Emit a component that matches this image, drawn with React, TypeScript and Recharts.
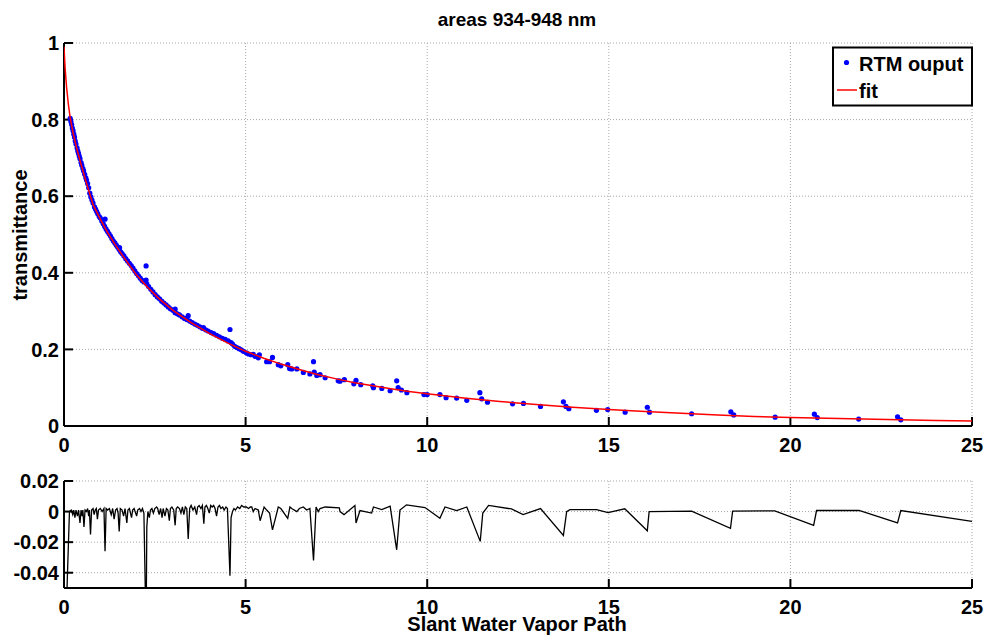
import React from 'react';
import { ComposedChart, Scatter, Line, XAxis, YAxis, CartesianGrid } from 'recharts';

// ---------- data ----------
const xTicks = [0, 5, 10, 15, 20, 25];
const topYTicks = [0, 0.2, 0.4, 0.6, 0.8, 1];
const botYTicks = [-0.04, -0.02, 0, 0.02];

const rtmX = [
  0.17, 0.19, 0.21, 0.23, 0.25, 0.27, 0.29, 0.31, 0.33, 0.36, 0.38, 0.4, 0.42, 0.44, 0.47, 0.49, 0.52, 0.54,
  0.57, 0.6, 0.62, 0.65, 0.68, 0.71, 0.74, 0.77, 0.8, 0.84, 0.87, 0.9, 0.93, 0.97, 1.0, 1.04, 1.08, 1.13,
  1.12, 1.16, 1.2, 1.24, 1.28, 1.32, 1.36, 1.4, 1.44, 1.48, 1.53, 1.52, 1.56, 1.6, 1.65, 1.7, 1.75, 1.8,
  1.85, 1.9, 1.95, 2.0, 2.05, 2.1, 2.15, 2.2, 2.26, 2.26, 2.28, 2.33, 2.39, 2.45, 2.51, 2.57, 2.63, 2.69,
  2.75, 2.81, 2.87, 2.93, 3.0, 3.06, 3.06, 3.12, 3.18, 3.25, 3.32, 3.38, 3.42, 3.46, 3.53, 3.6, 3.67, 3.74,
  3.81, 3.84, 3.9, 3.97, 4.05, 4.12, 4.2, 4.28, 4.36, 4.44, 4.52, 4.57, 4.6, 4.64, 4.7, 4.76, 4.82, 4.88,
  4.94, 5.02, 5.08, 5.15, 5.21, 5.26, 5.35, 5.38, 5.58, 5.66, 5.74, 5.9, 5.97, 6.16, 6.21, 6.27, 6.41, 6.59,
  6.77, 6.87, 6.89, 6.96, 7.05, 7.19, 7.55, 7.6, 7.72, 7.98, 8.04, 8.17, 8.5, 8.52, 8.75, 8.98, 9.16, 9.2,
  9.29, 9.44, 9.91, 10.0, 10.35, 10.52, 10.81, 11.09, 11.45, 11.5, 11.66, 12.35, 12.65, 13.12, 13.75, 13.82,
  13.9, 14.66, 14.97, 15.45, 16.06, 16.12, 17.28, 18.36, 18.44, 19.58, 20.66, 20.74, 21.88, 22.95, 23.04,
];
const rtmY = [
  0.803, 0.795, 0.787, 0.778, 0.771, 0.762, 0.754, 0.744, 0.736, 0.726, 0.718, 0.712, 0.705, 0.698, 0.688,
  0.681, 0.672, 0.666, 0.657, 0.648, 0.642, 0.633, 0.622, 0.608, 0.598, 0.59, 0.582, 0.572, 0.566, 0.56,
  0.554, 0.547, 0.543, 0.535, 0.528, 0.54, 0.521, 0.514, 0.508, 0.502, 0.496, 0.489, 0.483, 0.478, 0.472,
  0.467, 0.466, 0.461, 0.455, 0.45, 0.444, 0.437, 0.431, 0.425, 0.419, 0.412, 0.405, 0.398, 0.392, 0.386,
  0.38, 0.376, 0.418, 0.381, 0.371, 0.364, 0.357, 0.35, 0.343, 0.337, 0.332, 0.326, 0.321, 0.316, 0.311,
  0.306, 0.302, 0.305, 0.296, 0.293, 0.29, 0.285, 0.281, 0.278, 0.288, 0.274, 0.27, 0.266, 0.263, 0.259,
  0.255, 0.257, 0.251, 0.248, 0.244, 0.241, 0.237, 0.233, 0.229, 0.226, 0.222, 0.252, 0.218, 0.214, 0.208,
  0.205, 0.202, 0.199, 0.195, 0.191, 0.188, 0.186, 0.187, 0.182, 0.178, 0.186, 0.168, 0.168, 0.179, 0.16,
  0.157, 0.16, 0.15, 0.149, 0.149, 0.14, 0.136, 0.168, 0.141, 0.132, 0.134, 0.126, 0.118, 0.117, 0.121,
  0.11, 0.119, 0.108, 0.105, 0.1, 0.098, 0.092, 0.118, 0.1, 0.094, 0.087, 0.082, 0.082, 0.082, 0.074,
  0.073, 0.067, 0.087, 0.071, 0.062, 0.058, 0.059, 0.051, 0.063, 0.051, 0.045, 0.041, 0.043, 0.036, 0.049,
  0.036, 0.032, 0.037, 0.029, 0.023, 0.031, 0.022, 0.018, 0.024, 0.016,
];

const fitX = [
  0, 0.03, 0.07, 0.12, 0.17, 0.25, 0.35, 0.45, 0.6, 0.8, 1.0, 1.2, 1.4, 1.6, 1.8, 2.0, 2.3, 2.6, 3.0, 3.5,
  4.0, 4.5, 5.0, 5.5, 6.0, 6.5, 7.0, 7.5, 8.0, 8.5, 9.0, 9.5, 10, 11, 12, 13, 14, 15, 16, 17, 18, 19, 20,
  21, 22, 23, 24, 25,
];
const fitY = [
  0.99, 0.935, 0.885, 0.84, 0.805, 0.765, 0.725, 0.69, 0.64, 0.578, 0.54, 0.505, 0.475, 0.447, 0.42, 0.394,
  0.362, 0.334, 0.302, 0.27, 0.242, 0.217, 0.195, 0.177, 0.161, 0.147, 0.134, 0.123, 0.113, 0.105, 0.097,
  0.09, 0.084, 0.073, 0.064, 0.056, 0.049, 0.043, 0.038, 0.033, 0.029, 0.025, 0.022, 0.02, 0.018, 0.016,
  0.0145, 0.013,
];

const resX = [
  0.03, 0.15, 0.2, 0.24, 0.27, 0.3, 0.33, 0.37, 0.4, 0.44, 0.47, 0.5, 0.52, 0.55, 0.58, 0.62, 0.65, 0.68,
  0.7, 0.73, 0.76, 0.8, 0.83, 0.86, 0.89, 0.92, 0.95, 1.0, 1.05, 1.1, 1.13, 1.16, 1.2, 1.25, 1.3, 1.34,
  1.38, 1.42, 1.46, 1.49, 1.52, 1.55, 1.6, 1.64, 1.68, 1.73, 1.76, 1.8, 1.86, 1.89, 1.93, 2.0, 2.03, 2.08,
  2.12, 2.16, 2.2, 2.26, 2.28, 2.31, 2.35, 2.38, 2.42, 2.46, 2.5, 2.55, 2.58, 2.62, 2.66, 2.7, 2.73, 2.78,
  2.82, 2.86, 2.9, 2.93, 2.97, 3.02, 3.06, 3.09, 3.13, 3.18, 3.22, 3.26, 3.3, 3.34, 3.38, 3.42, 3.46, 3.5,
  3.55, 3.6, 3.65, 3.68, 3.72, 3.77, 3.81, 3.85, 3.88, 3.92, 3.96, 4.0, 4.04, 4.08, 4.12, 4.16, 4.2, 4.24,
  4.28, 4.32, 4.37, 4.41, 4.46, 4.5, 4.57, 4.6, 4.64, 4.68, 4.72, 4.78, 4.84, 4.89, 4.95, 5.02, 5.08, 5.13,
  5.17, 5.21, 5.26, 5.35, 5.4, 5.51, 5.58, 5.66, 5.74, 5.9, 5.97, 6.16, 6.22, 6.27, 6.41, 6.48, 6.59, 6.68,
  6.77, 6.87, 6.94, 7.0, 7.05, 7.19, 7.58, 7.6, 7.71, 8.01, 8.04, 8.15, 8.47, 8.52, 8.75, 8.98, 9.16, 9.25,
  9.43, 9.94, 10.35, 10.49, 10.81, 11.09, 11.46, 11.53, 11.69, 12.32, 12.64, 13.12, 13.75, 13.84, 13.93,
  14.66, 14.98, 15.44, 16.06, 16.11, 17.28, 18.35, 18.41, 19.57, 20.64, 20.72, 21.89, 22.95, 23.04, 25.0,
];
const resY = [
  -0.09, 0.0, 0.001, -0.002, 0.001, -0.004, 0.001, -0.003, 0.001, -0.0075, 0.001, -0.003, 0.001, -0.01,
  0.001, 0.0, 0.002, -0.003, 0.001, -0.015, 0.001, 0.002, -0.002, 0.001, 0.002, -0.005, 0.001, 0.002, 0.0,
  0.002, -0.026, 0.002, 0.001, 0.002, -0.002, 0.002, -0.005, 0.001, 0.002, -0.001, -0.013, 0.002, 0.001,
  -0.003, 0.002, -0.0075, 0.001, 0.002, -0.004, 0.001, 0.002, -0.003, 0.001, 0.002, 0.0, 0.002, -0.001,
  -0.08, -0.01, 0.0, -0.004, 0.001, 0.002, -0.001, 0.002, 0.003, 0.002, -0.002, 0.002, -0.004, 0.002,
  -0.003, 0.002, 0.001, -0.006, 0.002, 0.003, 0.001, -0.009, 0.002, 0.003, 0.002, -0.001, 0.003, -0.002,
  0.003, 0.002, -0.018, 0.002, 0.004, 0.001, 0.003, -0.002, 0.003, 0.004, 0.002, 0.004, -0.008, 0.003,
  0.004, 0.002, -0.001, 0.004, 0.003, 0.004, 0.002, -0.003, 0.003, 0.004, 0.002, 0.003, 0.001, 0.003, 0.002,
  -0.042, -0.004, 0.0, 0.002, 0.001, 0.003, 0.002, 0.004, 0.003, 0.003, 0.002, 0.003, 0.003, 0.0, 0.002,
  0.001, -0.006, 0.003, 0.001, -0.001, -0.012, 0.003, 0.002, -0.0045, 0.003, 0.002, 0.0, 0.002, 0.003,
  0.001, 0.002, -0.032, 0.003, 0.0, 0.002, 0.003, 0.0025, 0.0, -0.002, 0.004, -0.0075, 0.0007, -0.001,
  0.003, 0.0013, 0.0035, -0.025, 0.001, 0.0044, 0.0026, -0.0044, 0.003, 0.0007, 0.003, -0.0195, -0.001,
  0.004, 0.0017, -0.002, 0.002, -0.0156, 0.0, 0.0013, 0.0013, -0.0007, 0.0018, -0.0126, 0.0, 0.0003,
  -0.011, 0.0003, 0.0005, -0.009, 0.0007, 0.0007, -0.0074, 0.0007, -0.0064,
];

const rtmData = rtmX.map((x, i) => ({ x, y: rtmY[i] }));
const fitData = fitX.map((x, i) => ({ x, y: fitY[i] }));
const resData = resX.map((x, i) => ({ x, y: resY[i] }));

// ---------- styles ----------
const FONT = '"Liberation Sans", Arial, Helvetica, sans-serif';
const tickStyle = { fill: '#000', fontSize: 20, fontWeight: 'bold', fontFamily: FONT };
const axisLineStyle = { stroke: '#000', strokeWidth: 2 };
const tickLineStyle = { stroke: '#000', strokeWidth: 2 };
const gridColor = '#a8a8a8';

const Dot = (p: any) => <circle cx={p.cx} cy={p.cy} r={2.6} fill="#0000ff" />;

export default function App() {
  return (
    <div style={{ position: 'absolute', left: 0, top: 0, width: 985, height: 644, background: '#fff', fontFamily: FONT }}>
      <div style={{ position: 'absolute', left: 0, top: 0 }}>
        <ComposedChart width={985} height={470} margin={{ top: 43, right: 13, bottom: 4, left: 14 }}>
          <CartesianGrid stroke={gridColor} strokeDasharray="1 2" />
          <XAxis type="number" dataKey="x" domain={[0, 25]} ticks={xTicks} height={40} interval={0}
            axisLine={axisLineStyle} tickLine={tickLineStyle} tickSize={-9} tickMargin={21} tick={tickStyle} allowDataOverflow />
          <XAxis xAxisId="top" orientation="top" type="number" domain={[0, 25]} ticks={xTicks} height={0} interval={0}
            axisLine={axisLineStyle} tickLine={tickLineStyle} tickSize={-9} tickFormatter={() => ''} />
          <YAxis type="number" dataKey="y" domain={[0, 1]} ticks={topYTicks} width={50} interval={0}
            axisLine={axisLineStyle} tickLine={tickLineStyle} tickSize={-9} tickMargin={14} tick={tickStyle} allowDataOverflow />
          <YAxis yAxisId="right" orientation="right" type="number" domain={[0, 1]} ticks={topYTicks} width={0} interval={0}
            axisLine={axisLineStyle} tickLine={tickLineStyle} tickSize={-9} tickFormatter={() => ''} />
          <Scatter data={rtmData} dataKey="y" shape={Dot} isAnimationActive={false} />
          <Line data={fitData} dataKey="y" type="linear" stroke="#ff0000" strokeWidth={1.5} dot={false} activeDot={false}
            isAnimationActive={false} zIndex={700} />
        </ComposedChart>
      </div>
      <div style={{ position: 'absolute', left: 0, top: 470 }}>
        <ComposedChart width={985} height={174} margin={{ top: 11, right: 13, bottom: 16, left: 14 }}>
          <CartesianGrid stroke={gridColor} strokeDasharray="1 2" />
          <XAxis type="number" dataKey="x" domain={[0, 25]} ticks={xTicks} height={40} interval={0}
            axisLine={axisLineStyle} tickLine={tickLineStyle} tickSize={-9} tickMargin={21} tick={tickStyle} allowDataOverflow />
          <XAxis xAxisId="top" orientation="top" type="number" domain={[0, 25]} ticks={xTicks} height={0} interval={0}
            axisLine={axisLineStyle} tickLine={tickLineStyle} tickSize={-9} tickFormatter={() => ''} />
          <YAxis type="number" dataKey="y" domain={[-0.05, 0.02]} ticks={botYTicks} width={50} interval={0}
            axisLine={axisLineStyle} tickLine={tickLineStyle} tickSize={-9} tickMargin={14} tick={tickStyle} allowDataOverflow />
          <YAxis yAxisId="right" orientation="right" type="number" domain={[-0.05, 0.02]} ticks={botYTicks} width={0} interval={0}
            axisLine={axisLineStyle} tickLine={tickLineStyle} tickSize={-9} tickFormatter={() => ''} allowDataOverflow />
          <Line data={resData} dataKey="y" type="linear" stroke="#000" strokeWidth={1.3} dot={false} activeDot={false}
            isAnimationActive={false} />
        </ComposedChart>
      </div>
      <svg width={985} height={644} style={{ position: 'absolute', left: 0, top: 0, pointerEvents: 'none' }}>
        <text x={517} y={26} textAnchor="middle" fontFamily={FONT} fontWeight="bold" fontSize={19} fill="#000">
          areas 934-948 nm
        </text>
        <text transform="translate(27,235) rotate(-90)" textAnchor="middle" fontFamily={FONT} fontWeight="bold" fontSize={20} fill="#000">
          transmittance
        </text>
        <text x={517} y={631} textAnchor="middle" fontFamily={FONT} fontWeight="bold" fontSize={20} fill="#000">
          Slant Water Vapor Path
        </text>
        <rect x={833} y={47.5} width={139} height={58} fill="#fff" stroke="#000" strokeWidth={2} />
        <circle cx={846.5} cy={62.5} r={2.6} fill="#0000ff" />
        <text x={859} y={71} fontFamily={FONT} fontWeight="bold" fontSize={20} fill="#000">RTM ouput</text>
        <line x1={837} y1={90} x2={857} y2={90} stroke="#ff0000" strokeWidth={1.5} />
        <text x={859} y={98} fontFamily={FONT} fontWeight="bold" fontSize={20} fill="#000">fit</text>
      </svg>
    </div>
  );
}
